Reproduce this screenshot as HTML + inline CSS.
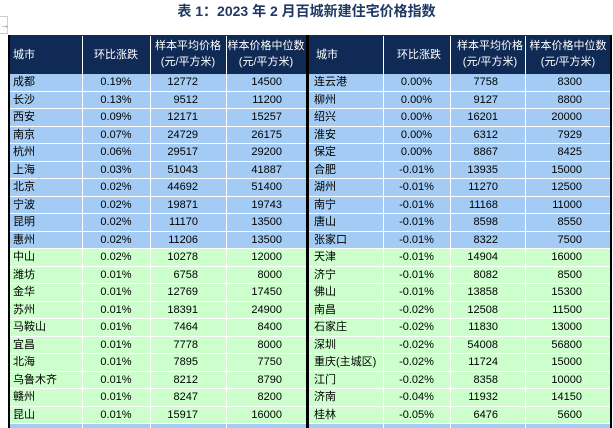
<!DOCTYPE html>
<html><head><meta charset="utf-8"><style>
body{margin:0;width:613px;height:428px;background:#fff;overflow:hidden;position:relative;font-family:"Liberation Sans","Noto Sans CJK SC",sans-serif;}
.t{position:absolute;left:0;width:613px;top:1px;text-align:center;font-size:14px;font-weight:bold;color:#1f3864;padding-left:0}
.hd{position:absolute;top:35px;height:39px;background:#0f2a55;}
.c{position:absolute;font-size:11px;color:#000;line-height:17.5px;white-space:nowrap}
.h{position:absolute;color:#fff;font-size:11px;line-height:16px;text-align:center}
.row{position:absolute;height:16.5px;}
.vl{position:absolute;width:1px;background:#fff;top:74px;height:354px}
</style></head><body>
<div class="t">表 1：2023 年 2 月百城新建住宅价格指数</div>
<div style="position:absolute;left:0;top:16px;width:7px;height:16px;border:1px solid #ccc;border-left:none;font-size:9px;color:#666;line-height:16px">→</div>
<div class="hd" style="left:8px;width:604px"></div>
<div id="rows"></div>
<div style="position:absolute;left:8px;top:35px;width:2px;height:393px;background:#000"></div>
<div style="position:absolute;left:306px;top:35px;width:3px;height:393px;background:#000"></div>
<div style="position:absolute;left:610px;top:35px;width:2px;height:393px;background:#000"></div>
<script>
const L=[["成都","0.19%","12772","14500"],["长沙","0.13%","9512","11200"],["西安","0.09%","12171","15257"],["南京","0.07%","24729","26175"],["杭州","0.06%","29517","29200"],["上海","0.03%","51043","41887"],["北京","0.02%","44692","51400"],["宁波","0.02%","19871","19743"],["昆明","0.02%","11170","13500"],["惠州","0.02%","11206","13500"],["中山","0.02%","10278","12000"],["潍坊","0.01%","6758","8000"],["金华","0.01%","12769","17450"],["苏州","0.01%","18391","24900"],["马鞍山","0.01%","7464","8400"],["宜昌","0.01%","7778","8000"],["北海","0.01%","7895","7750"],["乌鲁木齐","0.01%","8212","8790"],["赣州","0.01%","8247","8200"],["昆山","0.01%","15917","16000"]];
const R=[["连云港","0.00%","7758","8300"],["柳州","0.00%","9127","8800"],["绍兴","0.00%","16201","20000"],["淮安","0.00%","6312","7929"],["保定","0.00%","8867","8425"],["合肥","-0.01%","13935","15000"],["湖州","-0.01%","11270","12500"],["南宁","-0.01%","11168","11000"],["唐山","-0.01%","8598","8550"],["张家口","-0.01%","8322","7500"],["天津","-0.01%","14904","16000"],["济宁","-0.01%","8082","8500"],["佛山","-0.01%","13858","15300"],["南昌","-0.02%","12508","11500"],["石家庄","-0.02%","11830","13000"],["深圳","-0.02%","54008","56800"],["重庆(主城区)","-0.02%","11724","15000"],["江门","-0.02%","8358","10000"],["济南","-0.04%","11932","14150"],["桂林","-0.05%","6476","5600"]];
let h='';
for(let i=0;i<21;i++){const y=74+i*17.5;const col=(i<10||i==20)?'#a3cbf3':'#ccffcc';h+=`<div class="row" style="left:8px;width:604px;top:${y}px;height:${i==20?4:16.5}px;background:${col}"></div>`;}
[82,150,226,383,450,525].forEach(x=>h+=`<div class="vl" style="left:${x}px"></div>`);
[82,150,226,383,450,525].forEach(x=>h+=`<div style="position:absolute;left:${x}px;top:36px;width:1px;height:38px;background:#fff"></div>`);
for(let s=0;s<2;s++){const o=s?302:0;
h+=`<div class="h" style="left:${13+o+(s?1:0)}px;top:47px;text-align:left">城市</div>`;
h+=`<div class="h" style="left:${82+o+(s?1:0)}px;width:68px;top:47px">环比涨跌</div>`;
h+=`<div class="h" style="left:${150+o+(s?0:0)}px;width:76px;top:38px">样本平均价格<br>(元/平方米)</div>`;
h+=`<div class="h" style="left:${226+o}px;width:80px;top:38px">样本价格中位数<br>(元/平方米)</div>`;}
function rows(D,o,cr){D.forEach((r,i)=>{const y=74+i*17.5;
h+=`<div class="c" style="left:${13+o}px;top:${y}px">${r[0]}</div>`;
h+=`<div class="c" style="left:${(o?383:82)}px;width:${o?67:68}px;text-align:center;top:${y}px">${r[1]}</div>`;
h+=`<div class="c" style="left:${o?400:100}px;width:${o?98:98}px;text-align:right;top:${y}px">${r[2]}</div>`;
h+=`<div class="c" style="left:${o?480:180}px;width:${o?102:102}px;text-align:right;top:${y}px">${r[3]}</div>`;});}
rows(L,0);rows(R,301);
document.getElementById('rows').innerHTML=h;
</script>
</body></html>
